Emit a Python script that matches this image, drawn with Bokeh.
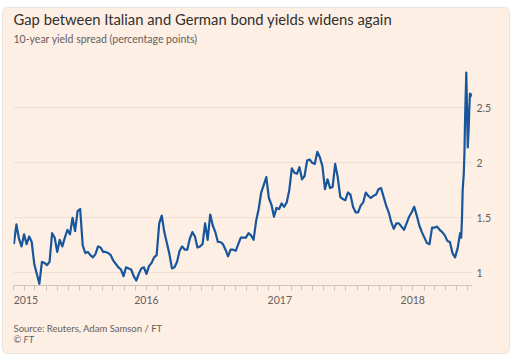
import pandas as pd
from bokeh.plotting import figure
from bokeh.models import FixedTicker, DatetimeTickFormatter, Label, LinearAxis
from bokeh.layouts import column
from bokeh.embed import file_html
from bokeh.resources import INLINE

# ---- data ----
weekly_start = "2015-01-02"
weekly_values = [
    1.26, 1.44, 1.31, 1.24, 1.35, 1.26, 1.33, 1.28, 1.08, 0.99,
    0.90, 1.10, 1.09, 1.07, 1.10, 1.36, 1.32, 1.19, 1.30, 1.24,
    1.32, 1.39, 1.35, 1.50, 1.38, 1.56, 1.58, 1.25, 1.18, 1.19,
    1.16, 1.14, 1.17, 1.24, 1.23, 1.19, 1.19, 1.18, 1.16, 1.11,
    1.08, 1.05, 1.03, 0.97, 1.05, 1.04, 1.03, 0.97, 0.93, 0.99,
    1.04, 1.05, 0.99, 1.06, 1.09, 1.14, 1.16, 1.45, 1.52, 1.37,
    1.27, 1.17, 1.04, 1.05, 1.10, 1.20, 1.24, 1.21, 1.21, 1.31,
    1.37, 1.33, 1.23, 1.24, 1.26, 1.45, 1.30, 1.53, 1.43, 1.37,
    1.28, 1.28, 1.26, 1.21, 1.15, 1.21, 1.21, 1.20, 1.26, 1.32,
    1.32, 1.32, 1.36, 1.34, 1.30, 1.47, 1.58, 1.73, 1.80, 1.87,
    1.68, 1.62, 1.51, 1.59, 1.58, 1.63, 1.60, 1.64, 1.75, 1.95,
    1.91, 1.90, 1.96, 1.85, 1.88, 2.02, 2.03, 2.00, 1.99, 2.10,
    2.05, 1.97, 1.76, 1.85, 1.77, 1.78, 1.99, 1.87, 1.69, 1.67,
    1.66, 1.73, 1.71, 1.60, 1.55, 1.55, 1.61, 1.64, 1.73, 1.70,
    1.68, 1.70, 1.71, 1.76, 1.77, 1.69, 1.61, 1.55, 1.46, 1.40,
    1.45, 1.45, 1.42, 1.39, 1.45, 1.51, 1.55, 1.60, 1.52, 1.43,
    1.37, 1.32, 1.27, 1.26, 1.41, 1.41, 1.42, 1.39, 1.37, 1.34,
    1.29, 1.28, 1.18, 1.14, 1.22, 1.36,
]
late_dates = [
    "2018-05-14", "2018-05-16", "2018-05-18", "2018-05-21", "2018-05-23",
    "2018-05-24", "2018-05-25", "2018-05-28", "2018-05-29", "2018-05-30",
    "2018-05-31", "2018-06-01", "2018-06-04", "2018-06-05", "2018-06-06",
    "2018-06-07", "2018-06-08", "2018-06-11",
]
late_values = [
    1.32, 1.48, 1.75, 1.90, 2.10,
    2.29, 2.45, 2.82, 2.65, 2.48,
    2.30, 2.14, 2.35, 2.48, 2.55,
    2.63, 2.60, 2.63,
]
x_tick_labels = ["2015", "2016", "2017", "2018"]
y_ticks = [1, 1.5, 2, 2.5]
y_tick_labels = ["1", "1.5", "2", "2.5"]

title_text = "Gap between Italian and German bond yields widens again"
subtitle_text = "10-year yield spread (percentage points)"
source_text = "Source: Reuters, Adam Samson / FT"
copyright_text = "\u00a9 FT"

# ---- build ----
dates = list(pd.date_range(weekly_start, periods=len(weekly_values), freq="7D")) + list(pd.to_datetime(late_dates))
values = weekly_values + late_values


def ms(s):
    return pd.Timestamp(s).value / 1e6


BG = "#fdefe4"
FONT = "Lato"
GREY = "#66605c"
AXIS = "#cfc5bd"

W = 506
BORDER_L, BORDER_R = 10, 37
FRAME_W = W - BORDER_L - BORDER_R
FRAME_H = 277          # frame spans the title area too (titles drawn inside it)
PPU = 110.0            # pixels per percentage point
x_start = ms("2015-01-01")
x_end = ms("2018-06-14")
y_start = 1 - 12.7 / PPU
y_end = y_start + FRAME_H / PPU


def y_from_top(px):
    return y_end - px / PPU


p = figure(width=W, height=FRAME_H + 28, x_axis_type="datetime", y_axis_location=None,
           x_range=(x_start, x_end), y_range=(y_start, y_end),
           output_backend="svg", toolbar_location=None,
           min_border_left=BORDER_L, min_border_right=BORDER_R,
           min_border_top=0, min_border_bottom=28,
           border_fill_color=BG, background_fill_color=BG,
           outline_line_color=None)

# horizontal grid
p.xgrid.visible = False
p.ygrid.ticker = FixedTicker(ticks=y_ticks)
p.ygrid.grid_line_color = "#eddfd3"
p.ygrid.grid_line_width = 1

# right value axis
yax = LinearAxis(ticker=FixedTicker(ticks=y_ticks),
                 major_label_overrides={t: s for t, s in zip(y_ticks, y_tick_labels)})
yax.axis_line_color = None
yax.major_tick_line_color = None
yax.minor_tick_line_color = None
yax.major_tick_in = 0
yax.major_tick_out = 0
yax.minor_tick_in = 0
yax.minor_tick_out = 0
yax.major_label_standoff = 4
yax.major_label_text_font = FONT
yax.major_label_text_font_size = "10.5px"
yax.major_label_text_color = GREY
p.add_layout(yax, "right")

# x axis: monthly tick marks, year labels (first label kept inside the card)
label_pos = [ms(f"{y}-01-01") for y in x_tick_labels]
label_pos[0] = ms(f"{x_tick_labels[0]}-02-04")
month_ticks = [d.value / 1e6 for d in pd.date_range("2015-01-01", "2018-06-01", freq="MS")]
ax = p.xaxis[0]
ax.ticker = FixedTicker(ticks=label_pos, minor_ticks=month_ticks)
ax.formatter = DatetimeTickFormatter(years="%Y", months="%Y", days="%Y")
ax.axis_line_color = AXIS
ax.major_tick_line_color = None
ax.minor_tick_line_color = AXIS
ax.major_tick_in = 0
ax.major_tick_out = 5
ax.minor_tick_in = 0
ax.minor_tick_out = 5
ax.major_label_standoff = 5
ax.major_label_text_font = FONT
ax.major_label_text_font_size = "10.5px"
ax.major_label_text_color = GREY

# series
p.line(dates, values, line_color="#17559c", line_width=2.2, line_join="round")

# title and subtitle (inside the frame's empty top band)
p.add_layout(Label(x=x_start, y=y_from_top(10.2), text=title_text, text_align="left",
                   text_baseline="alphabetic", text_font=FONT, text_font_size="14.8px",
                   text_color="#33302e"))
p.add_layout(Label(x=x_start, y=y_from_top(30.2), text=subtitle_text, text_align="left",
                   text_baseline="alphabetic", text_font=FONT, text_font_size="10.5px",
                   text_color=GREY))

# footer strip with source and copyright (frame aligned with the chart above)
FOOT_H = 40
f = figure(width=W, height=FOOT_H, x_range=(0, FRAME_W), y_range=(0, FOOT_H),
           x_axis_location=None, y_axis_location=None,
           output_backend="svg", toolbar_location=None,
           min_border_left=BORDER_L, min_border_right=BORDER_R,
           min_border_top=0, min_border_bottom=0,
           border_fill_color=BG, background_fill_color=BG, outline_line_color=None)
f.grid.visible = False
f.add_layout(Label(x=0, y=FOOT_H - 14.5, text=source_text, text_align="left",
                   text_baseline="alphabetic", text_font=FONT, text_font_size="9.5px",
                   text_color=GREY))
f.add_layout(Label(x=0, y=FOOT_H - 26.2, text=copyright_text, text_align="left",
                   text_baseline="alphabetic", text_font=FONT, text_font_size="9.5px",
                   text_font_style="italic", text_color=GREY))

layout = column(p, f, spacing=0,
                styles={"margin-left": "3px", "margin-top": "8px",
                        "background-color": BG, "border-radius": "5px",
                        "box-shadow": "0 0 1px 1px #e8e1dc", "overflow": "hidden"})

open("out.html", "w").write(file_html(layout, INLINE))
